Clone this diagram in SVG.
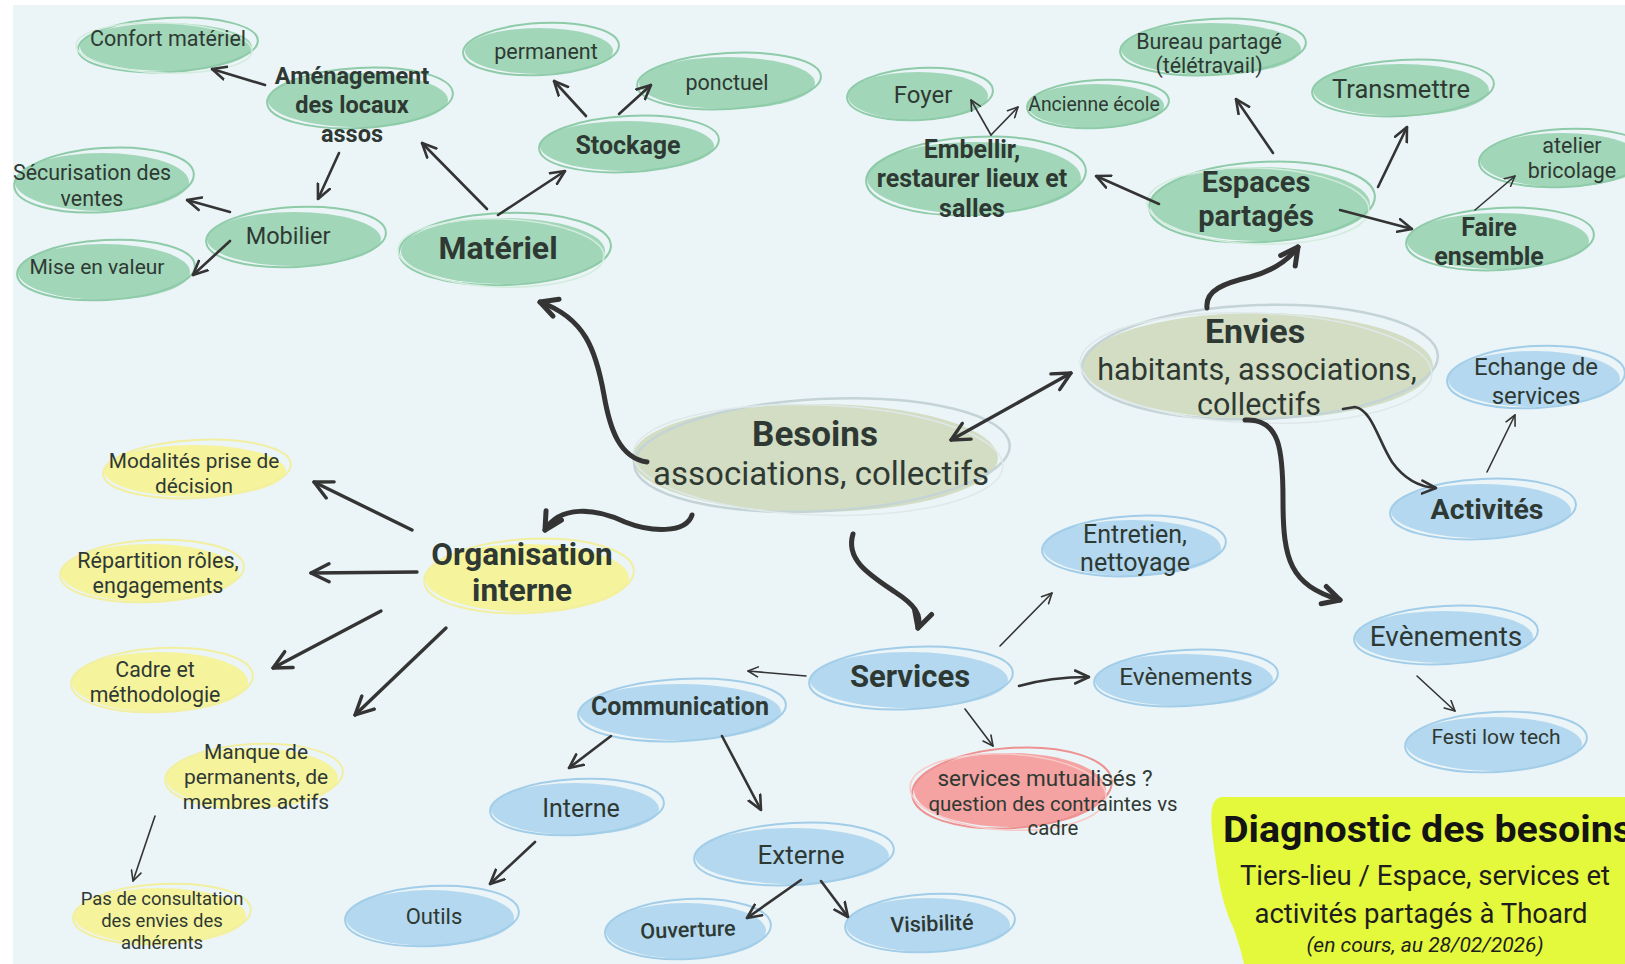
<svg xmlns="http://www.w3.org/2000/svg" width="1625" height="964" viewBox="0 0 1625 964">
<defs>
<style>
text{font-family:Roboto,"Liberation Sans",sans-serif;fill:#2f3933;text-anchor:middle}
.b{font-weight:bold}
.green .f{fill:#a1d6b8}.green .r1{fill:none;stroke:#8ecba8;stroke-width:2}.green .r2{fill:none;stroke:#d2ecdd;stroke-width:1.5}
.blue .f{fill:#b3d8ef}.blue .r1{fill:none;stroke:#a2cde8;stroke-width:2}.blue .r2{fill:none;stroke:#d8ebf6;stroke-width:1.5}
.yel .f{fill:#f6f39d}.yel .r1{fill:none;stroke:#f2efa0;stroke-width:2}.yel .r2{fill:none;stroke:#fbf9d0;stroke-width:1.5}
.sage .f{fill:#d2ddc3}.sage .r1{fill:none;stroke:#c4d3d6;stroke-width:2.5}.sage .r2{fill:none;stroke:#dfe8e9;stroke-width:1.5}
.pink .f{fill:#f4a2a2}.pink .r1{fill:none;stroke:#ee9191;stroke-width:2}.pink .r2{fill:none;stroke:#f8c9c9;stroke-width:1.5}
.c{fill:none;stroke:#343434;stroke-linecap:round;stroke-linejoin:round}
.t1{stroke-width:1.6;marker-end:url(#ahs)}
.t2{stroke-width:2.6;marker-end:url(#ahm)}
.t3{stroke-width:3.4;marker-end:url(#ahl)}
.tk{stroke-width:5;marker-end:url(#ahb)}
</style>
<marker id="ahs" viewBox="0 0 12 12" markerWidth="12" markerHeight="12" refX="11" refY="6" orient="auto" markerUnits="userSpaceOnUse"><path d="M1,1 L11,6 L1,11" fill="none" stroke="#343434" stroke-width="1.6" stroke-linecap="round" stroke-linejoin="round"/></marker>
<marker id="ahm" viewBox="0 0 16 16" markerWidth="16" markerHeight="16" refX="15" refY="8" orient="auto" markerUnits="userSpaceOnUse"><path d="M1,1.5 L15,8 L1,14.5" fill="none" stroke="#343434" stroke-width="2.6" stroke-linecap="round" stroke-linejoin="round"/></marker>
<marker id="ahl" viewBox="0 0 22 22" markerWidth="22" markerHeight="22" refX="20" refY="11" orient="auto-start-reverse" markerUnits="userSpaceOnUse"><path d="M2,2 L20,11 L2,20" fill="none" stroke="#343434" stroke-width="3.4" stroke-linecap="round" stroke-linejoin="round"/></marker>
<marker id="ahb" viewBox="0 0 24 24" markerWidth="24" markerHeight="24" refX="20" refY="12" orient="auto" markerUnits="userSpaceOnUse"><path d="M3,3 L20,12 L3,21" fill="none" stroke="#343434" stroke-width="5" stroke-linecap="round" stroke-linejoin="round"/></marker>
</defs>
<rect width="1625" height="964" fill="#ffffff"/>
<rect x="13" y="5" width="1612" height="959" fill="#ebf4f7"/>

<g id="n-confort" class="green"><ellipse class="f" cx="166" cy="47" rx="86" ry="24"/><ellipse class="r1" cx="168" cy="45" rx="90" ry="27" transform="rotate(-3 168 45)"/><ellipse class="r2" cx="164" cy="48" rx="88" ry="25" transform="rotate(2 164 48)"/><text x="168" y="46" font-size="21.5">Confort matériel</text></g>
<g id="n-amenagement" class="green"><ellipse class="f" cx="358" cy="100" rx="90" ry="27"/><ellipse class="r1" cx="360" cy="98" rx="93" ry="30" transform="rotate(-3 360 98)"/><text class="b" x="352" y="84" font-size="23.5">Aménagement</text><text class="b" x="352" y="113" font-size="23.5">des locaux</text><text class="b" x="352" y="142" font-size="23.5">assos</text></g>
<g id="n-permanent" class="green"><ellipse class="f" cx="539" cy="51" rx="74" ry="23"/><ellipse class="r1" cx="541" cy="49" rx="78" ry="26" transform="rotate(-3 541 49)"/><text x="546" y="59" font-size="21.5">permanent</text></g>
<g id="n-ponctuel" class="green"><ellipse class="f" cx="727" cy="83" rx="88" ry="26"/><ellipse class="r1" cx="729" cy="81" rx="92" ry="28" transform="rotate(-3 729 81)"/><text x="727" y="90" font-size="21.5">ponctuel</text></g>
<g id="n-stockage" class="green"><ellipse class="f" cx="627" cy="146" rx="87" ry="25"/><ellipse class="r1" cx="629" cy="144" rx="90" ry="28" transform="rotate(-3 629 144)"/><text class="b" x="628" y="154" font-size="25">Stockage</text></g>
<g id="n-securisation" class="green"><ellipse class="f" cx="102" cy="182" rx="87" ry="29"/><ellipse class="r1" cx="104" cy="180" rx="90" ry="32" transform="rotate(-4 104 180)"/><text x="92" y="180" font-size="21.4">Sécurisation des</text><text x="92" y="206" font-size="21.4">ventes</text></g>
<g id="n-mobilier" class="green"><ellipse class="f" cx="294" cy="239" rx="87" ry="27"/><ellipse class="r1" cx="296" cy="237" rx="90" ry="30" transform="rotate(-3 296 237)"/><text x="288" y="244" font-size="23.5">Mobilier</text></g>
<g id="n-mise" class="green"><ellipse class="f" cx="104" cy="272" rx="86" ry="28"/><ellipse class="r1" cx="106" cy="270" rx="89" ry="30" transform="rotate(-3 106 270)"/><text x="97" y="274" font-size="21">Mise en valeur</text></g>
<g id="n-materiel" class="green"><ellipse class="f" cx="503" cy="251" rx="102" ry="33"/><ellipse class="r1" cx="505" cy="249" rx="106" ry="36" transform="rotate(-2 505 249)"/><ellipse class="r2" cx="501" cy="253" rx="103" ry="34" transform="rotate(2 501 253)"/><text class="b" x="498" y="259" font-size="32">Matériel</text></g>
<g id="n-foyer" class="green"><ellipse class="f" cx="918" cy="96" rx="70" ry="24"/><ellipse class="r1" cx="920" cy="94" rx="73" ry="26" transform="rotate(-3 920 94)"/><text x="923" y="103" font-size="24">Foyer</text></g>
<g id="n-ecole" class="green"><ellipse class="f" cx="1096" cy="106" rx="68" ry="22"/><ellipse class="r1" cx="1098" cy="104" rx="71" ry="24" transform="rotate(-3 1098 104)"/><text x="1094" y="111" font-size="19.4">Ancienne école</text></g>
<g id="n-bureau" class="green"><ellipse class="f" cx="1211" cy="49" rx="90" ry="26"/><ellipse class="r1" cx="1213" cy="47" rx="93" ry="28" transform="rotate(-3 1213 47)"/><text x="1209" y="49" font-size="21.4">Bureau partagé</text><text x="1209" y="73" font-size="21.4">(télétravail)</text></g>
<g id="n-embellir" class="green"><ellipse class="f" cx="974" cy="178" rx="107" ry="36"/><ellipse class="r1" cx="976" cy="176" rx="110" ry="39" transform="rotate(-3 976 176)"/><text class="b" x="972" y="158" font-size="25">Embellir,</text><text class="b" x="972" y="187" font-size="25">restaurer lieux et</text><text class="b" x="972" y="217" font-size="25">salles</text></g>
<g id="n-transmettre" class="green"><ellipse class="f" cx="1401" cy="90" rx="88" ry="26"/><ellipse class="r1" cx="1403" cy="88" rx="91" ry="28" transform="rotate(-3 1403 88)"/><text x="1401" y="98" font-size="25.5">Transmettre</text></g>
<g id="n-espaces" class="green"><ellipse class="f" cx="1260" cy="204" rx="110" ry="37"/><ellipse class="r1" cx="1262" cy="202" rx="113" ry="40" transform="rotate(-3 1262 202)"/><ellipse class="r2" cx="1258" cy="206" rx="111" ry="38" transform="rotate(2 1258 206)"/><text class="b" x="1256" y="192" font-size="29">Espaces</text><text class="b" x="1256" y="226" font-size="29">partagés</text></g>
<g id="n-atelier" class="green"><ellipse class="f" cx="1562" cy="160" rx="82" ry="27"/><ellipse class="r1" cx="1564" cy="158" rx="85" ry="29" transform="rotate(-3 1564 158)"/><text x="1572" y="153" font-size="21.5">atelier</text><text x="1572" y="178" font-size="21.5">bricolage</text></g>
<g id="n-faire" class="green"><ellipse class="f" cx="1498" cy="241" rx="91" ry="28"/><ellipse class="r1" cx="1500" cy="239" rx="94" ry="31" transform="rotate(-3 1500 239)"/><text class="b" x="1489" y="236" font-size="25">Faire</text><text class="b" x="1489" y="265" font-size="25">ensemble</text></g>
<g id="n-envies" class="sage"><ellipse class="f" cx="1258" cy="366" rx="175" ry="53"/><ellipse class="r1" cx="1260" cy="362" rx="178" ry="57" transform="rotate(-2 1260 362)"/><ellipse class="r2" cx="1256" cy="368" rx="176" ry="55" transform="rotate(2 1256 368)"/><text class="b" x="1255" y="343" font-size="34">Envies</text><text x="1257" y="380" font-size="30.5">habitants, associations,</text><text x="1259" y="415" font-size="30.5">collectifs</text></g>
<g id="n-echange" class="blue"><ellipse class="f" cx="1534" cy="379" rx="86" ry="28"/><ellipse class="r1" cx="1536" cy="377" rx="89" ry="31" transform="rotate(-3 1536 377)"/><text x="1536" y="375" font-size="24">Echange de</text><text x="1536" y="404" font-size="24">services</text></g>
<g id="n-activites" class="blue"><ellipse class="f" cx="1481" cy="511" rx="90" ry="27"/><ellipse class="r1" cx="1483" cy="509" rx="93" ry="30" transform="rotate(-3 1483 509)"/><text class="b" x="1487" y="519" font-size="28.5">Activités</text></g>
<g id="n-besoins" class="sage"><ellipse class="f" cx="815" cy="458" rx="183" ry="54"/><ellipse class="r1" cx="822" cy="455" rx="188" ry="56" transform="rotate(-3 822 455)"/><ellipse class="r2" cx="818" cy="460" rx="185" ry="55" transform="rotate(2 818 460)"/><text class="b" x="815" y="446" font-size="35">Besoins</text><text x="821" y="485" font-size="33">associations, collectifs</text></g>
<g id="n-modalites" class="yel"><ellipse class="f" cx="195" cy="471" rx="91" ry="26"/><ellipse class="r1" cx="197" cy="469" rx="94" ry="29" transform="rotate(-3 197 469)"/><text x="194" y="468" font-size="20.8">Modalités prise de</text><text x="194" y="493" font-size="20.8">décision</text></g>
<g id="n-repartition" class="yel"><ellipse class="f" cx="150" cy="573" rx="89" ry="29"/><ellipse class="r1" cx="152" cy="571" rx="92" ry="31" transform="rotate(-3 152 571)"/><text x="158" y="568" font-size="21.5">Répartition rôles,</text><text x="158" y="593" font-size="21.5">engagements</text></g>
<g id="n-organisation" class="yel"><ellipse class="f" cx="527" cy="578" rx="102" ry="34"/><ellipse class="r1" cx="529" cy="576" rx="105" ry="37" transform="rotate(-3 529 576)"/><text class="b" x="522" y="565" font-size="31.5">Organisation</text><text class="b" x="522" y="601" font-size="31.5">interne</text></g>
<g id="n-cadre" class="yel"><ellipse class="f" cx="160" cy="682" rx="88" ry="30"/><ellipse class="r1" cx="162" cy="680" rx="91" ry="32" transform="rotate(-3 162 680)"/><text x="155" y="677" font-size="21.3">Cadre et</text><text x="155" y="702" font-size="21.3">méthodologie</text></g>
<g id="n-manque" class="yel"><ellipse class="f" cx="252" cy="778" rx="86" ry="30"/><ellipse class="r1" cx="254" cy="776" rx="89" ry="32" transform="rotate(-3 254 776)"/><text x="256" y="759" font-size="21">Manque de</text><text x="256" y="784" font-size="21">permanents, de</text><text x="256" y="809" font-size="21">membres actifs</text></g>
<g id="n-consultation" class="yel"><ellipse class="f" cx="160" cy="916" rx="86" ry="28"/><ellipse class="r1" cx="162" cy="914" rx="89" ry="30" transform="rotate(-3 162 914)"/><text x="162" y="905" font-size="18.5">Pas de consultation</text><text x="162" y="927" font-size="18.5">des envies des</text><text x="162" y="949" font-size="18.5">adhérents</text></g>
<g id="n-communication" class="blue"><ellipse class="f" cx="680" cy="712" rx="101" ry="28"/><ellipse class="r1" cx="682" cy="710" rx="104" ry="31" transform="rotate(-3 682 710)"/><text class="b" x="680" y="715" font-size="25">Communication</text></g>
<g id="n-services" class="blue"><ellipse class="f" cx="909" cy="680" rx="99" ry="28"/><ellipse class="r1" cx="911" cy="678" rx="102" ry="31" transform="rotate(-3 911 678)"/><text class="b" x="910" y="687" font-size="31">Services</text></g>
<g id="n-entretien" class="blue"><ellipse class="f" cx="1132" cy="548" rx="89" ry="28"/><ellipse class="r1" cx="1134" cy="546" rx="92" ry="30" transform="rotate(-3 1134 546)"/><text x="1135" y="543" font-size="25">Entretien,</text><text x="1135" y="571" font-size="25">nettoyage</text></g>
<g id="n-evenements-s" class="blue"><ellipse class="f" cx="1184" cy="680" rx="89" ry="26"/><ellipse class="r1" cx="1186" cy="678" rx="92" ry="28" transform="rotate(-3 1186 678)"/><text x="1186" y="685" font-size="24.5">Evènements</text></g>
<g id="n-evenements-a" class="blue"><ellipse class="f" cx="1444" cy="637" rx="89" ry="26"/><ellipse class="r1" cx="1446" cy="635" rx="92" ry="29" transform="rotate(-3 1446 635)"/><text x="1446" y="646" font-size="28">Evènements</text></g>
<g id="n-festi" class="blue"><ellipse class="f" cx="1494" cy="744" rx="88" ry="27"/><ellipse class="r1" cx="1496" cy="742" rx="91" ry="30" transform="rotate(-3 1496 742)"/><text x="1496" y="744" font-size="21">Festi low tech</text></g>
<g id="n-mutualises" class="pink"><ellipse class="f" cx="1010" cy="790" rx="96" ry="37"/><ellipse class="r1" cx="1012" cy="788" rx="100" ry="40" transform="rotate(-4 1012 788)"/><ellipse class="r2" cx="1008" cy="792" rx="98" ry="38" transform="rotate(3 1008 792)"/><text x="1045" y="786" font-size="22.5">services mutualisés ?</text><text x="1053" y="811" font-size="20.4">question des contraintes vs</text><text x="1053" y="835" font-size="20.4">cadre</text></g>
<g id="n-interne" class="blue"><ellipse class="f" cx="575" cy="809" rx="84" ry="26"/><ellipse class="r1" cx="577" cy="807" rx="87" ry="28" transform="rotate(-3 577 807)"/><text x="581" y="817" font-size="25">Interne</text></g>
<g id="n-externe" class="blue"><ellipse class="f" cx="792" cy="856" rx="97" ry="28"/><ellipse class="r1" cx="794" cy="854" rx="100" ry="31" transform="rotate(-3 794 854)"/><text x="801" y="864" font-size="26">Externe</text></g>
<g id="n-outils" class="blue"><ellipse class="f" cx="430" cy="918" rx="84" ry="28"/><ellipse class="r1" cx="432" cy="916" rx="87" ry="30" transform="rotate(-3 432 916)"/><text x="434" y="924" font-size="22">Outils</text></g>
<g id="n-ouverture" class="blue"><ellipse class="f" cx="686" cy="931" rx="80" ry="28"/><ellipse class="r1" cx="688" cy="929" rx="83" ry="30" transform="rotate(-3 688 929)"/><text x="688" y="937" font-size="21.6" font-weight="500" transform="rotate(-2 688 930)">Ouverture</text></g>
<g id="n-visibilite" class="blue"><ellipse class="f" cx="928" cy="925" rx="82" ry="27"/><ellipse class="r1" cx="930" cy="923" rx="85" ry="29" transform="rotate(-3 930 923)"/><text x="932" y="931" font-size="21.5" font-weight="500" transform="rotate(-2 932 924)">Visibilité</text></g>

<g id="connectors">
<path class="c t2" d="M265,85 L212,69"/>
<path class="c t2" d="M339,153 L318,199"/>
<path class="c t2" d="M487,209 L422,143"/>
<path class="c t2" d="M498,215 L565,171"/>
<path class="c t2" d="M586,116 L554,81"/>
<path class="c t2" d="M619,114 L651,85"/>
<path class="c t2" d="M230,212 L187,200"/>
<path class="c t2" d="M230,241 L193,275"/>
<path class="c t1" d="M991,135 L971,100"/>
<path class="c t1" d="M991,135 L1018,107"/>
<path class="c t2" d="M1159,204 L1096,176"/>
<path class="c t2" d="M1273,153 L1236,99"/>
<path class="c t2" d="M1378,187 L1407,127"/>
<path class="c t2" d="M1340,210 L1412,229"/>
<path class="c t1" d="M1475,210 L1515,176"/>
<path class="c tk" d="M1207,308 C1205,290 1225,283 1250,277 C1272,271 1287,262 1298,247"/>
<path class="c t3" d="M951,440 L1071,373" marker-start="url(#ahl)"/>
<path class="c tk" d="M647,462 C620,458 610,430 604,395 C596,350 585,318 540,302"/>
<path class="c tk" d="M692,515 C686,534 650,532 625,522 C595,508 560,505 545,530"/>
<path class="c tk" d="M853,534 C845,560 870,575 895,592 C915,605 922,615 918,628"/>
<path class="c t2" d="M1343,409 L1355,407 C1372,410 1378,440 1392,462 C1405,480 1420,487 1436,488"/>
<path class="c tk" d="M1245,420 C1280,418 1283,450 1283,500 C1283,560 1290,585 1340,600"/>
<path class="c t1" d="M1487,472 L1515,415"/>
<path class="c t1" d="M1417,676 L1455,711"/>
<path class="c t1" d="M1000,646 L1052,593"/>
<path class="c t2" d="M1019,686 Q1050,677 1089,677"/>
<path class="c t1" d="M806,676 L748,671"/>
<path class="c t1" d="M965,709 L993,746"/>
<path class="c t3" d="M412,530 L314,482"/>
<path class="c t3" d="M417,572 L311,573"/>
<path class="c t3" d="M381,611 L273,668"/>
<path class="c t3" d="M446,628 L355,715"/>
<path class="c t1" d="M155,816 L133,881"/>
<path class="c t2" d="M611,736 L569,768"/>
<path class="c t2" d="M722,736 L761,810"/>
<path class="c t2" d="M535,842 L490,884"/>
<path class="c t2" d="M801,880 L747,918"/>
<path class="c t2" d="M821,881 L848,917"/>
</g>

<g id="title">
<path d="M1222,797 L1625,797 L1625,964 L1244,964 C1241,950 1237,938 1233,927 C1224,908 1219,885 1216,862 C1213,840 1209,815 1213,805 Q1216,797 1222,797 Z" fill="#e4f83c"/>
<text x="1223" y="842" font-family="Lato,'Open Sans',sans-serif" font-weight="bold" font-size="36" style="text-anchor:start;fill:#141414" textLength="410" lengthAdjust="spacingAndGlyphs">Diagnostic des besoins</text>
<text x="1425" y="885" font-family="Lato,'Open Sans',sans-serif" font-size="27.5" style="fill:#1e1e1e">Tiers-lieu / Espace, services et</text>
<text x="1421" y="923" font-family="Lato,'Open Sans',sans-serif" font-size="27.5" style="fill:#1e1e1e">activités partagés à Thoard</text>
<text x="1425" y="952" font-family="Lato,'Open Sans',sans-serif" font-size="21" font-style="italic" style="fill:#1e1e1e">(en cours, au 28/02/2026)</text>
</g>
</svg>
